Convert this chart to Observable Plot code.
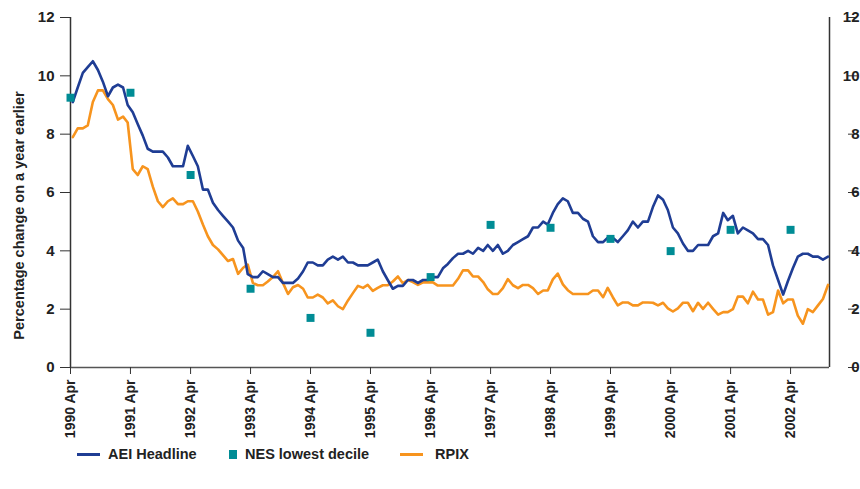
<!DOCTYPE html>
<html><head><meta charset="utf-8">
<script src="https://cdn.jsdelivr.net/npm/d3@7"></script>
<script src="https://cdn.jsdelivr.net/npm/@observablehq/plot@0.6"></script>
<style>
body{margin:0;background:#fff;font-family:"Liberation Sans",Arial,sans-serif;}
#chart{position:relative;width:860px;height:489px;overflow:hidden;}
.legend{position:absolute;top:444px;left:0;width:860px;height:20px;font-weight:bold;font-size:14.5px;color:#222;}
.item{position:absolute;top:0;height:20px;line-height:20px;white-space:nowrap;}
.sw{position:absolute;}
</style></head><body><div id="chart"></div>
<script>
// Monthly series, April 1990 onward (one value per month)
const aei = [
  9.1, 9.6, 10.1, 10.3, 10.5, 10.2, 9.8, 9.3, 9.6, 9.7, 9.6, 9.0,
  8.75, 8.35, 7.95, 7.5, 7.4, 7.4, 7.4, 7.2, 6.9, 6.9, 6.9, 7.6,
  7.25, 6.9, 6.1, 6.1, 5.65, 5.4, 5.2, 5.0, 4.8, 4.35, 4.1, 3.2,
  3.1, 3.1, 3.3, 3.2, 3.1, 3.1, 2.9, 2.9, 2.9, 3.05, 3.3, 3.6,
  3.6, 3.5, 3.5, 3.7, 3.8, 3.7, 3.8, 3.6, 3.6, 3.5, 3.5, 3.5,
  3.6, 3.7, 3.3, 3.0, 2.7, 2.8, 2.8, 3.0, 3.0, 2.9, 3.0, 3.0,
  3.1, 3.1, 3.4, 3.55, 3.75, 3.9, 3.9, 4.0, 3.9, 4.1, 4.0, 4.2,
  4.0, 4.2, 3.9, 4.0, 4.2, 4.3, 4.4, 4.5, 4.8, 4.8, 5.0, 4.9,
  5.3, 5.6, 5.8, 5.7, 5.3, 5.3, 5.1, 5.0, 4.5, 4.3, 4.3, 4.45,
  4.45, 4.3, 4.5, 4.7, 5.0, 4.8, 5.0, 5.0, 5.5, 5.9, 5.75, 5.4,
  4.8, 4.6, 4.25, 4.0, 4.0, 4.2, 4.2, 4.2, 4.5, 4.6, 5.3, 5.05,
  5.2, 4.6, 4.8, 4.7, 4.6, 4.4, 4.4, 4.2, 3.5, 3.0, 2.5, 2.95,
  3.4, 3.8, 3.9, 3.9, 3.8, 3.8, 3.7, 3.8
];
const rpix = [
  7.9, 8.2, 8.2, 8.3, 9.1, 9.5, 9.5, 9.2, 9.0, 8.5, 8.6, 8.4,
  6.8, 6.6, 6.9, 6.8, 6.2, 5.7, 5.5, 5.7, 5.8, 5.6, 5.6, 5.7,
  5.7, 5.35, 4.9, 4.5, 4.2, 4.05, 3.85, 3.65, 3.72, 3.21, 3.42, 3.53,
  2.9, 2.82, 2.82, 2.95, 3.1, 3.3, 2.9, 2.52, 2.75, 2.83, 2.7, 2.4,
  2.4, 2.5, 2.4, 2.2, 2.3, 2.1, 2.0, 2.3, 2.55, 2.8, 2.73, 2.83,
  2.63, 2.73, 2.82, 2.82, 2.95, 3.12, 2.89, 3.0, 2.93, 2.83, 2.92, 2.92,
  2.92, 2.81, 2.81, 2.81, 2.81, 3.04, 3.33, 3.33, 3.12, 3.12, 2.93, 2.68,
  2.52, 2.52, 2.72, 3.03, 2.82, 2.72, 2.83, 2.83, 2.72, 2.52, 2.64, 2.64,
  3.02, 3.22, 2.85, 2.65, 2.52, 2.52, 2.52, 2.52, 2.64, 2.64, 2.41, 2.73,
  2.41, 2.13, 2.23, 2.23, 2.13, 2.13, 2.23, 2.23, 2.22, 2.13, 2.22, 2.03,
  1.92, 2.03, 2.22, 2.22, 1.93, 2.22, 2.01, 2.22, 2.01, 1.81, 1.9, 1.9,
  2.0, 2.43, 2.43, 2.2, 2.6, 2.33, 2.33, 1.81, 1.9, 2.64, 2.2, 2.33,
  2.33, 1.78, 1.5, 2.0, 1.9, 2.13, 2.35, 2.83
];
// NES lowest decile, April of each year
const nesYears = [1990, 1991, 1992, 1993, 1994, 1995, 1996, 1997, 1998, 1999, 2000, 2001, 2002];
const nes = [9.25, 9.42, 6.6, 2.7, 1.7, 1.19, 3.1, 4.89, 4.79, 4.41, 3.99, 4.72, 4.72];
const yTicks = [0, 2, 4, 6, 8, 10, 12];
const seriesNames = ["AEI Headline", "NES lowest decile", "RPIX"];
const yLabel = "Percentage change on a year earlier";

const colors = {aei: "#1f3d94", nes: "#008c95", rpix: "#f7941e"};
const monthDate = i => new Date(Date.UTC(1990, 3 + i, 15));
const aeiData = aei.map((v, i) => ({date: monthDate(i), value: v}));
const rpixData = rpix.map((v, i) => ({date: monthDate(i), value: v}));
const nesData = nes.map((v, i) => ({date: new Date(Date.UTC(nesYears[i], 3, 1)), value: v}));
const tickDates = nesYears.map(y => new Date(Date.UTC(y, 3, 1)));
const x0 = new Date(Date.UTC(1990, 3, 1)), x1 = new Date(Date.UTC(2002, 10, 24));

const plot = Plot.plot({
  width: 860, height: 445,
  marginLeft: 70, marginRight: 31, marginTop: 17, marginBottom: 78,
  style: {fontFamily: "'Liberation Sans', Arial, sans-serif", fontWeight: "bold", fontSize: "15px", color: "#222", background: "#fff"},
  x: {type: "utc", domain: [x0, x1]},
  y: {domain: [0, 12]},
  marks: [
    Plot.ruleY([0], {stroke: "#555", strokeWidth: 1.5}),
    Plot.ruleX([x0, x1], {stroke: "#333", strokeWidth: 1.5}),
    Plot.axisY({anchor: "left", ticks: yTicks, tickSize: 10, tickPadding: 6, label: null, stroke: "#333", strokeOpacity: 1}),
    Plot.axisY({anchor: "right", ticks: yTicks, tickSize: 9, tickPadding: 3, textAnchor: "end", dx: 18, label: null, stroke: "#333", strokeOpacity: 1}),
    Plot.axisX({ticks: tickDates, tickFormat: d => `${d.getUTCFullYear()} Apr`, tickRotate: -90, tickSize: 7, tickPadding: 5, label: null, fontSize: 14, stroke: "#333", strokeOpacity: 1}),
    Plot.line(rpixData, {x: "date", y: "value", stroke: colors.rpix, strokeWidth: 2.6}),
    Plot.line(aeiData, {x: "date", y: "value", stroke: colors.aei, strokeWidth: 2.6}),
    Plot.dot(nesData, {x: "date", y: "value", symbol: "square", r: 4.5, fill: colors.nes, stroke: "none"}),
    Plot.text([yLabel], {frameAnchor: "left", textAnchor: "middle", dx: -51, dy: 23, rotate: -90, fontSize: 14.5, fontWeight: "bold", fill: "#222"})
  ]
});
const chart = document.getElementById("chart");
chart.appendChild(plot);

const legend = document.createElement("div");
legend.className = "legend";
legend.innerHTML = `
  <div class="sw" style="left:77px;top:9px;width:23px;height:3px;background:${colors.aei}"></div>
  <div class="item" style="left:108px">${seriesNames[0]}</div>
  <div class="sw" style="left:229px;top:6px;width:8px;height:9px;background:${colors.nes}"></div>
  <div class="item" style="left:245px">${seriesNames[1]}</div>
  <div class="sw" style="left:400px;top:9px;width:23px;height:3px;background:${colors.rpix}"></div>
  <div class="item" style="left:435px">${seriesNames[2]}</div>`;
chart.appendChild(legend);
</script>
</body></html>
